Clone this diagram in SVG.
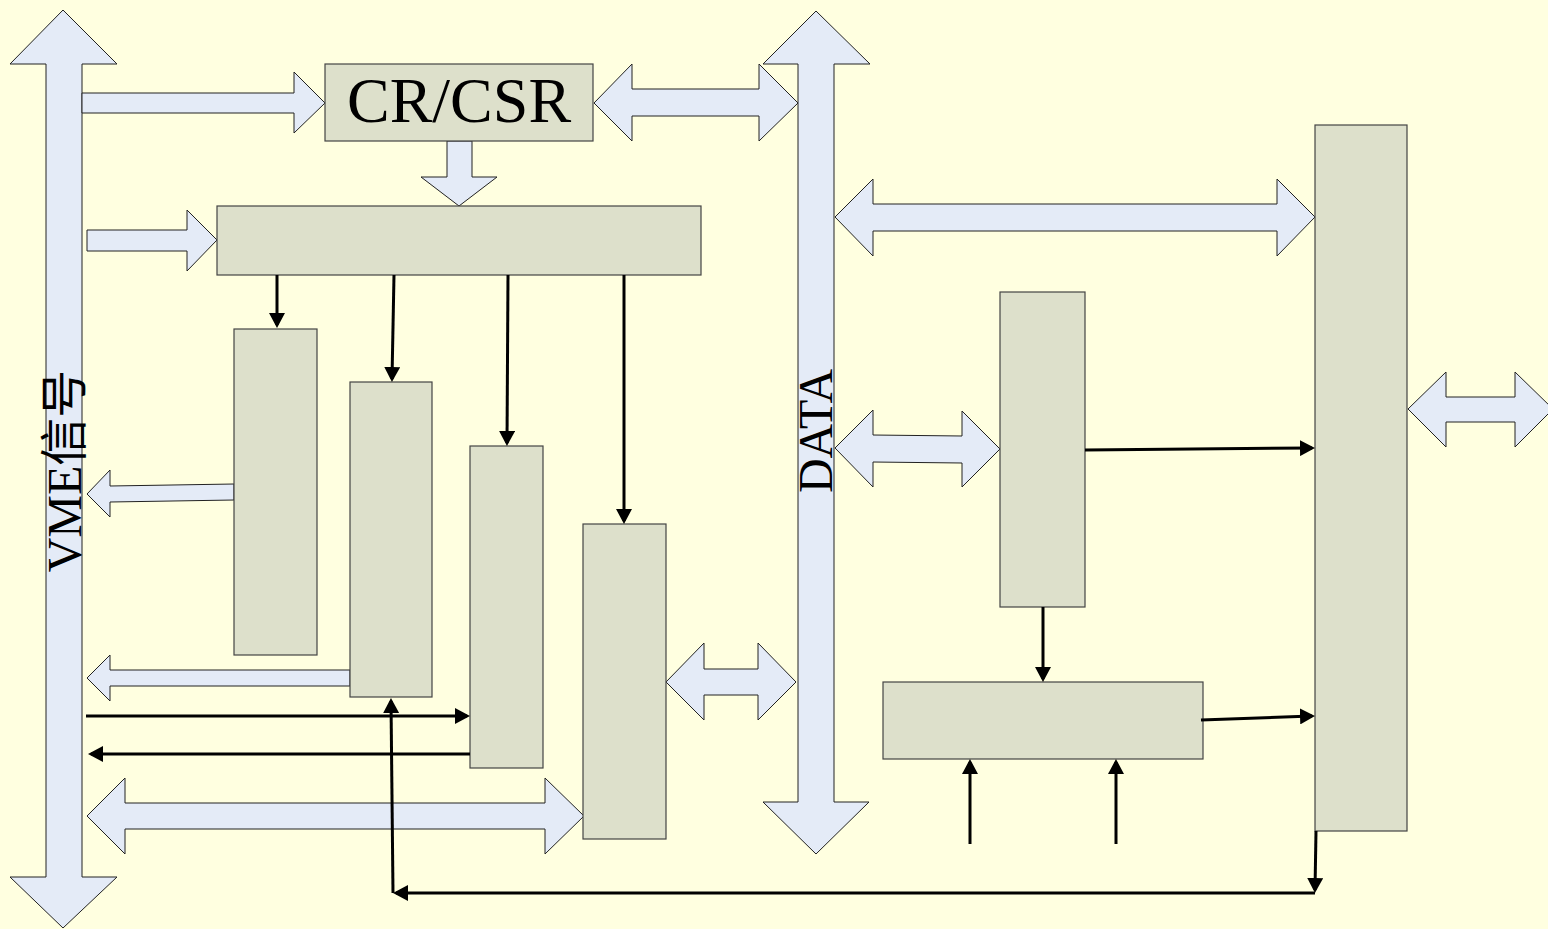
<svg xmlns="http://www.w3.org/2000/svg" width="1548" height="929" viewBox="0 0 1548 929">
<style>
.bus{fill:#E4EBF7;stroke:#222;stroke-width:1}
.blk{fill:#E4EBF7;stroke:#222;stroke-width:1}
.box{fill:#DDE0CB;stroke:#444;stroke-width:1.2}
.ln{fill:none;stroke:#000;stroke-width:3;marker-end:url(#ah)}
.lbl{font-family:"Liberation Serif","Noto Sans CJK SC",serif;fill:#000}
</style>
<defs>
<marker id="ah" markerUnits="userSpaceOnUse" markerWidth="16" markerHeight="16" refX="12" refY="8" orient="auto">
<path d="M0,0 L15,8 L0,16 Z" fill="#000"/>
</marker>
</defs>
<rect x="0" y="0" width="1548" height="929" fill="#FFFFE0"/>

<g id="vme-bus">
<polygon class="bus" points="63,10 117,64 82,64 82,877 117,877 63,928 10,877 46,877 46,64 10,64"/>
<text class="lbl" font-size="48" text-anchor="middle" transform="translate(81,471) rotate(-90)">VME信号</text>
</g>
<g id="data-bus">
<polygon class="bus" points="816,11 870,64 834,64 834,802 869,802 816,854 763,802 798,802 798,64 763,64"/>
<text class="lbl" font-size="48" text-anchor="middle" transform="translate(832,431) rotate(-90)">DATA</text>
</g>

<g id="connectors">
<polygon class="blk" points="82,93 294,93 294,72 325,103 294,133 294,113 82,113"/>
<polygon class="blk" points="87,230 187,230 187,210 217,240 187,271 187,251 87,251"/>
<polygon class="blk" points="447,141 472,141 472,177 497,177 459,206 421,177 447,177"/>
<polygon class="blk" points="594,103 632,64 632,89 759,89 759,64 798,103 759,141 759,116 632,116 632,141"/>
<polygon class="blk" points="835,217 873,179 873,204 1277,204 1277,179 1315,217 1277,256 1277,231 873,231 873,256"/>
<polygon class="blk" points="835,448 873,410 873,435 962,436 962,411 1000,449 962,487 962,463 873,462 873,487"/>
<polygon class="blk" points="1408,409 1446,372 1446,397 1515,397 1515,372 1553,409 1515,447 1515,422 1446,422 1446,447"/>
<polygon class="blk" points="87,494 110,470 110,486 234,484 234,500 110,502 110,517"/>
<polygon class="blk" points="87,678 110,655 110,670 350,670 350,686 110,686 110,701"/>
<polygon class="blk" points="87,816 125,778 125,803 545,803 545,778 584,816 545,854 545,829 125,829 125,854"/>
<polygon class="blk" points="666,682 704,643 704,669 758,669 758,643 796,682 758,720 758,695 704,695 704,720"/>
</g>

<g id="cr-csr">
<rect class="box" x="325" y="64" width="268" height="77"/>
<text class="lbl" font-size="64" text-anchor="middle" x="459" y="122">CR/CSR</text>
</g>
<g id="decoder"><rect class="box" x="217" y="206" width="484" height="69"/></g>
<g id="block-a"><rect class="box" x="234" y="329" width="83" height="326"/></g>
<g id="block-b"><rect class="box" x="350" y="382" width="82" height="315"/></g>
<g id="block-c"><rect class="box" x="470" y="446" width="73" height="322"/></g>
<g id="block-d"><rect class="box" x="583" y="524" width="83" height="315"/></g>
<g id="block-e"><rect class="box" x="1000" y="292" width="85" height="315"/></g>
<g id="block-f"><rect class="box" x="883" y="682" width="320" height="77"/></g>
<g id="block-g"><rect class="box" x="1315" y="125" width="92" height="706"/></g>

<g id="signal-lines">
<line class="ln" x1="277" y1="275" x2="277" y2="325"/>
<line class="ln" x1="394" y1="275" x2="392" y2="379"/>
<line class="ln" x1="508" y1="275" x2="507" y2="443"/>
<line class="ln" x1="624" y1="275" x2="624" y2="521"/>
<line class="ln" x1="86" y1="716" x2="467" y2="716"/>
<line class="ln" x1="470" y1="754" x2="91" y2="754"/>
<line class="ln" x1="1043" y1="607" x2="1043" y2="679"/>
<line class="ln" x1="1085" y1="450" x2="1312" y2="448"/>
<line class="ln" x1="1201" y1="720" x2="1312" y2="716"/>
<line class="ln" x1="970" y1="844" x2="970" y2="762"/>
<line class="ln" x1="1116" y1="844" x2="1116" y2="762"/>
<line class="ln" x1="1316" y1="831" x2="1315" y2="890"/>
<line class="ln" x1="1315" y1="893" x2="396" y2="893"/>
<line class="ln" x1="393" y1="893" x2="391" y2="701"/>
</g>
</svg>
